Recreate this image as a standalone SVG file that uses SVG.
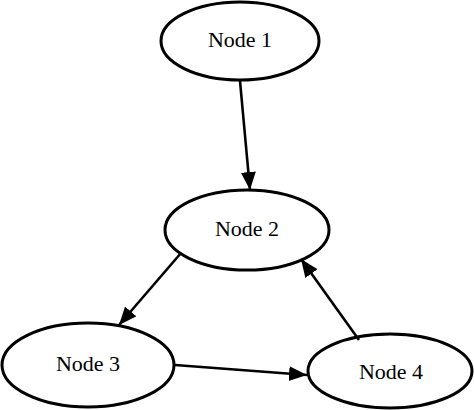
<svg xmlns="http://www.w3.org/2000/svg" width="474" height="410" viewBox="0 0 474 410">
<style>
.n ellipse{fill:#fff;stroke:#000;stroke-width:3}
.n text{font-family:"Liberation Serif","Times New Roman",serif;font-size:22px;fill:#000;text-anchor:middle}
.e line{stroke:#000;stroke-width:2.6;marker-end:url(#ah)}
</style>
<defs>
<marker id="ah" markerUnits="userSpaceOnUse" markerWidth="20" markerHeight="16" refX="18" refY="7.5" orient="auto">
<path d="M0,0 L18,7.5 L0,15 z" fill="#000"/>
</marker>
</defs>
<rect width="474" height="410" fill="#fff"/>
<g id="node1" class="n"><ellipse cx="240" cy="41" rx="79" ry="39"/><text x="240" y="47">Node 1</text></g>
<g id="node2" class="n"><ellipse cx="247" cy="230" rx="82" ry="40"/><text x="247" y="236">Node 2</text></g>
<g id="node3" class="n"><ellipse cx="88" cy="365" rx="86" ry="42"/><text x="88" y="371">Node 3</text></g>
<g id="node4" class="n"><ellipse cx="390" cy="371" rx="82" ry="37"/><text x="391" y="379">Node 4</text></g>
<g id="edges" class="e">
<line x1="240" y1="81" x2="250" y2="190"/>
<line x1="181" y1="253" x2="119" y2="325"/>
<line x1="175" y1="365" x2="307" y2="375"/>
<line x1="359" y1="340" x2="301" y2="259"/>
</g>
</svg>
